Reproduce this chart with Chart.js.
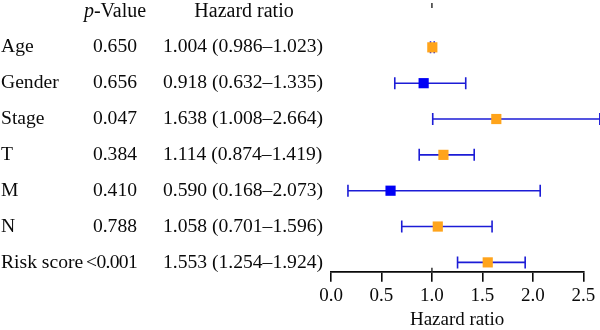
<!DOCTYPE html>
<html>
<head>
<meta charset="utf-8">
<script src="https://cdn.jsdelivr.net/npm/chart.js@4.4.0/dist/chart.umd.min.js"></script>
<style>
  html, body { margin: 0; padding: 0; background: #fff; }
  #wrap { width: 600px; height: 330px; }
</style>
</head>
<body>
<div id="wrap"><canvas id="forestChart"></canvas></div>
<script>
var variables = ['Age', 'Gender', 'Stage', 'T', 'M', 'N', 'Risk score'];
var pValues = ['0.650', '0.656', '0.047', '0.384', '0.410', '0.788', '<0.001'];
var hazardRatios = [1.004, 0.918, 1.638, 1.114, 0.590, 1.058, 1.553];
var lowerCI = [0.986, 0.632, 1.008, 0.874, 0.168, 0.701, 1.254];
var upperCI = [1.023, 1.335, 2.664, 1.419, 2.073, 1.596, 1.924];
var xTicks = [0, 0.5, 1, 1.5, 2, 2.5];

var FONT = '"Liberation Serif", "Times New Roman", serif';
var TEXT = '#0a0a0a';
var ORANGE = '#ffa41b';
var BLUE = '#0000f5';
var BAR_COLOR = '#1c1cd6';

var markerColors = hazardRatios.map(v => v >= 1 ? ORANGE : BLUE);

var points = hazardRatios.map((v, i) => ({ x: v, y: i }));

// whiskers for the confidence intervals, drawn under the markers
var errorBars = {
    id: 'errorBars',
    beforeDatasetsDraw(chart) {
        var ctx = chart.ctx;
        var xs = chart.scales.x, ys = chart.scales.y;
        ctx.save();
        ctx.strokeStyle = BAR_COLOR;
        ctx.lineWidth = 1.6;
        for (var i = 0; i < hazardRatios.length; i++) {
            var y = ys.getPixelForValue(i);
            var x0 = xs.getPixelForValue(lowerCI[i]);
            var x1 = xs.getPixelForValue(upperCI[i]);
            ctx.beginPath();
            ctx.moveTo(x0, y);
            ctx.lineTo(x1, y);
            ctx.moveTo(x0, y - 6);
            ctx.lineTo(x0, y + 6);
            ctx.moveTo(x1, y - 6);
            ctx.lineTo(x1, y + 6);
            ctx.stroke();
        }
        // reference marks at HR = 1
        var xr = xs.getPixelForValue(1);
        ctx.strokeStyle = '#333';
        ctx.lineWidth = 1.5;
        ctx.beginPath();
        ctx.moveTo(xr, 3);
        ctx.lineTo(xr, 8);
        ctx.moveTo(xr, chart.chartArea.bottom - 4);
        ctx.lineTo(xr, chart.chartArea.bottom);
        ctx.stroke();
        ctx.restore();
    }
};

// table of variable names, p-values and HR (95% CI) to the left of the plot
var sideTable = {
    id: 'sideTable',
    afterDraw(chart) {
        var ctx = chart.ctx;
        var ys = chart.scales.y;
        ctx.save();
        ctx.fillStyle = TEXT;
        ctx.textBaseline = 'middle';

        // headers
        var hy = 12;
        ctx.font = 'italic 20px ' + FONT;
        ctx.textAlign = 'left';
        var pw = ctx.measureText('p').width;
        ctx.font = '20px ' + FONT;
        var rest = ctx.measureText('-Value').width;
        var px = 115 - (pw + rest) / 2;
        ctx.font = 'italic 20px ' + FONT;
        ctx.fillText('p', px, hy);
        ctx.font = '20px ' + FONT;
        ctx.fillText('-Value', px + pw, hy);
        ctx.textAlign = 'center';
        ctx.fillText('Hazard ratio', 244, hy);

        ctx.font = '19.6px ' + FONT;
        for (var i = 0; i < variables.length; i++) {
            var y = ys.getPixelForValue(i);
            ctx.textAlign = 'left';
            ctx.fillText(variables[i], 1, y);
            // keep "<0.001" clear of the longest row label
            ctx.letterSpacing = pValues[i].charAt(0) === '<' ? '-0.7px' : '0px';
            ctx.textAlign = 'right';
            ctx.fillText(pValues[i], 137, y);
            ctx.letterSpacing = '0px';
            ctx.textAlign = 'left';
            var txt = hazardRatios[i].toFixed(3) + ' (' + lowerCI[i].toFixed(3) + '\u2013' + upperCI[i].toFixed(3) + ')';
            ctx.fillText(txt, 163, y);
        }
        ctx.restore();
    }
};

var ctx = document.getElementById('forestChart').getContext('2d');
var forestChart = new Chart(ctx, {
    type: 'scatter',
    data: {
        datasets: [{
            data: points,
            pointStyle: 'rect',
            pointRadius: 7.2,
            pointHoverRadius: 7.2,
            backgroundColor: markerColors,
            borderColor: markerColors,
            borderWidth: 0,
            clip: false
        }]
    },
    options: {
        responsive: true,
        maintainAspectRatio: false,
        animation: false,
        events: [],
        layout: {
            padding: { left: 331, right: 16.7, top: 0, bottom: 0 }
        },
        plugins: {
            legend: { display: false },
            tooltip: { enabled: false }
        },
        scales: {
            x: {
                type: 'linear',
                min: 0,
                max: 2.5,
                afterBuildTicks: function (scale) {
                    scale.ticks = xTicks.map(v => ({ value: v }));
                },
                afterFit: function (scale) {
                    scale.height = 58.3;
                },
                grid: {
                    drawOnChartArea: false,
                    drawTicks: true,
                    tickLength: 10,
                    color: TEXT,
                    lineWidth: 1.6
                },
                border: { display: true, color: TEXT, width: 1.8 },
                ticks: {
                    padding: 3,
                    color: TEXT,
                    font: { family: FONT, size: 19 },
                    callback: v => v.toFixed(1)
                },
                title: {
                    display: true,
                    text: 'Hazard ratio',
                    color: TEXT,
                    padding: { top: 0, bottom: 0 },
                    font: { family: FONT, size: 19, lineHeight: 1 }
                }
            },
            y: {
                type: 'linear',
                display: false,
                reverse: true,
                min: -1.12,
                max: 6.26,
                ticks: { display: false },
                grid: { display: false }
            }
        }
    },
    plugins: [errorBars, sideTable]
});
</script>
</body>
</html>
